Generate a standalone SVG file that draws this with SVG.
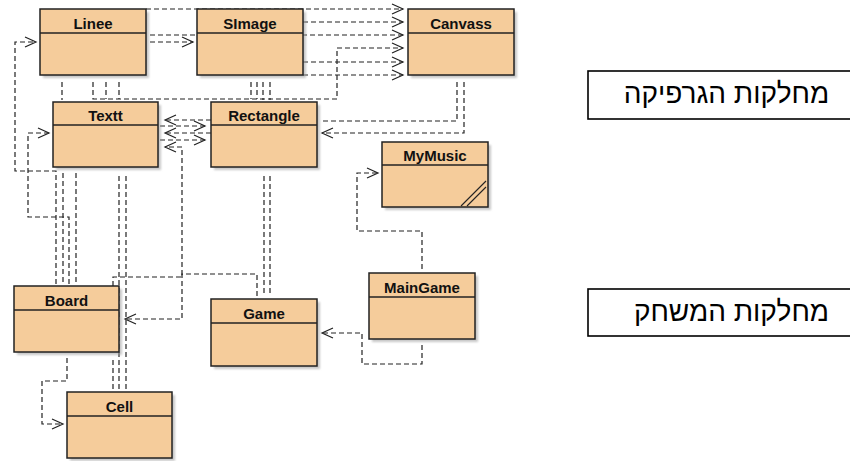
<svg xmlns="http://www.w3.org/2000/svg" width="850" height="461" viewBox="0 0 850 461">
<style>
.c{fill:none;stroke:#222;stroke-width:1.2;stroke-dasharray:5 3}
.a{marker-end:url(#arr)}
.box{fill:#F5CC9B;stroke:#222;stroke-width:1.5}
.sh{fill:#9a9a9a;opacity:0.55;filter:url(#blur)}
.hd{stroke:#222;stroke-width:1.3}
.t{font-family:"Liberation Sans",Arial,sans-serif;font-weight:bold;font-size:15px;fill:#111;text-anchor:middle}
.lb{fill:#fff;stroke:#000;stroke-width:1.6}
.ht{font-family:"Liberation Sans","DejaVu Sans",Arial,sans-serif;font-size:28px;fill:#000;text-anchor:middle}
</style>
<defs>
<marker id="arr" markerWidth="14" markerHeight="14" refX="12" refY="6" orient="auto" markerUnits="userSpaceOnUse">
<path d="M1 1 L12 6 L1 11" fill="none" stroke="#222" stroke-width="1.2" stroke-dasharray="none"/>
</marker>
<filter id="blur" x="-10%" y="-10%" width="120%" height="120%"><feGaussianBlur stdDeviation="1"/></filter>
</defs>
<rect width="850" height="461" fill="#fff"/>
<g id="connectors">
<path class="c a" d="M146 9 H403"/>
<path class="c a" d="M303 22 H403"/>
<path class="c a" d="M150 35 H403"/>
<path class="c a" d="M150 42 H193"/>
<path class="c a" d="M93 82 V99 H337 V48 H403"/>
<path class="c a" d="M303 62 H403"/>
<path class="c a" d="M303 75 H403"/>
<path class="c" d="M62 82 V100"/>
<path class="c" d="M106 82 V99"/>
<path class="c" d="M119 82 V99"/>
<path class="c" d="M251 82 V99"/>
<path class="c" d="M257 82 V99"/>
<path class="c" d="M263 82 V100"/>
<path class="c" d="M270 82 V100"/>
<path class="c" d="M457 82 V121 H322"/>
<path class="c a" d="M464 82 V133 H322"/>
<path class="c a" d="M211 120 H165"/>
<path class="c a" d="M160 126 H205"/>
<path class="c a" d="M211 133 H165"/>
<path class="c a" d="M160 140 H205"/>
<path class="c a" d="M113 286 V277 H182 V147 H165"/>
<path class="c a" d="M56 284 V171 H15 V42 H36"/>
<path class="c a" d="M69 284 V217 H28 V133 H49"/>
<path class="c" d="M63 173 V284"/>
<path class="c" d="M76 173 V284"/>
<path class="c" d="M119 176 V389"/>
<path class="c" d="M126 176 V389"/>
<path class="c" d="M113 360 V389"/>
<path class="c a" d="M67 358 V381 H42 V424 H63"/>
<path class="c a" d="M257 296 V274 H182 V319 H125"/>
<path class="c" d="M264 176 V296"/>
<path class="c" d="M270 176 V296"/>
<path class="c a" d="M422 269 V231 H357 V173 H378"/>
<path class="c a" d="M422 345 V364 H362 V333 H322"/>
</g>
<g id="Linee"><rect class="sh" x="43" y="12" width="106" height="66"/><rect class="box" x="40" y="9" width="106" height="66"/><line class="hd" x1="40" y1="33" x2="146" y2="33"/><text class="t" x="93" y="29">Linee</text></g>
<g id="SImage"><rect class="sh" x="200" y="12" width="106" height="66"/><rect class="box" x="197" y="9" width="106" height="66"/><line class="hd" x1="197" y1="33" x2="303" y2="33"/><text class="t" x="250" y="29">SImage</text></g>
<g id="Canvass"><rect class="sh" x="411" y="12" width="106" height="66"/><rect class="box" x="408" y="9" width="106" height="66"/><line class="hd" x1="408" y1="33" x2="514" y2="33"/><text class="t" x="461" y="29">Canvass</text></g>
<g id="Textt"><rect class="sh" x="56" y="105" width="105" height="65"/><rect class="box" x="53" y="102" width="105" height="65"/><line class="hd" x1="53" y1="125" x2="158" y2="125"/><text class="t" x="105.5" y="121">Textt</text></g>
<g id="Rectangle"><rect class="sh" x="214" y="105" width="106" height="65"/><rect class="box" x="211" y="102" width="106" height="65"/><line class="hd" x1="211" y1="125" x2="317" y2="125"/><text class="t" x="264" y="121">Rectangle</text></g>
<g id="MyMusic"><rect class="sh" x="385" y="145" width="106" height="65"/><rect class="box" x="382" y="142" width="106" height="65" stroke-width="3" stroke="#111"/><line class="hd" x1="382" y1="165" x2="488" y2="165" stroke-width="1.5"/><text class="t" x="435" y="161">MyMusic</text><line x1="461" y1="206" x2="486" y2="181" stroke="#222" stroke-width="1.1"/><line x1="467" y1="206" x2="486" y2="187" stroke="#222" stroke-width="1.1"/></g>
<g id="Board"><rect class="sh" x="17" y="289" width="105" height="66"/><rect class="box" x="14" y="286" width="105" height="66"/><line class="hd" x1="14" y1="310" x2="119" y2="310"/><text class="t" x="66.5" y="306">Board</text></g>
<g id="Cell"><rect class="sh" x="70" y="395" width="105" height="66"/><rect class="box" x="67" y="392" width="105" height="66"/><line class="hd" x1="67" y1="416" x2="172" y2="416"/><text class="t" x="119.5" y="412">Cell</text></g>
<g id="Game"><rect class="sh" x="214" y="302" width="106" height="67"/><rect class="box" x="211" y="299" width="106" height="67"/><line class="hd" x1="211" y1="323" x2="317" y2="323"/><text class="t" x="264" y="319">Game</text></g>
<g id="MainGame"><rect class="sh" x="372" y="276" width="106" height="66"/><rect class="box" x="369" y="273" width="106" height="66"/><line class="hd" x1="369" y1="297" x2="475" y2="297"/><text class="t" x="422" y="293">MainGame</text></g>
<g id="label-graphics"><rect class="lb" x="588" y="71" width="280" height="48"/><text class="ht" x="726.5" y="103">מחלקות הגרפיקה</text></g>
<g id="label-game"><rect class="lb" x="588" y="289" width="280" height="47"/><text class="ht" x="731.5" y="321">מחלקות המשחק</text></g>
</svg>
